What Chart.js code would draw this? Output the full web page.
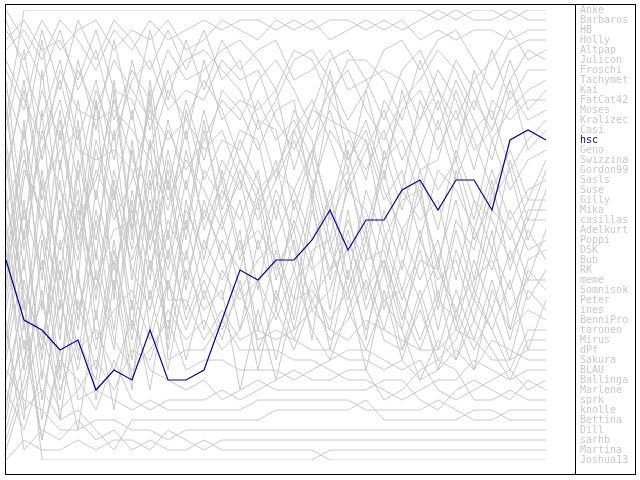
<!DOCTYPE html>
<html>
<head>
<meta charset="utf-8">
<script src="https://cdn.jsdelivr.net/npm/chart.js@4/dist/chart.umd.min.js"></script>
<style>
  body { margin: 0; background: #fff; }
  #wrap { position: relative; width: 640px; height: 480px; }
  #legend { position: absolute; left: 580px; top: 5px; font: 10px "DejaVu Sans Mono", monospace; line-height: 10px; color: #c8c8c8; }
  #legend div { height: 10px; white-space: nowrap; }
</style>
</head>
<body>
<div id="wrap">
  <canvas id="rankChart" width="640" height="480"></canvas>
  <div id="legend"></div>
</div>
<script>
// rounds 0..30
const rounds = [0,1,2,3,4,5,6,7,8,9,10,11,12,13,14,15,16,17,18,19,20,21,22,23,24,25,26,27,28,29,30];

// players in final order (legend)
const players = ["Anke","Barbaros","HB","Holly","Altpap","Julicon","Froschi","Tachymet","Kai","FatCat42",
  "Moses","Kralizec","Casi","hsc","Geno","Swizzina","Gordon99","Sasls","Suse","Gilly","Mika","casillas",
  "Adelkurt","Poppi","DSK","Bub","RK","meme","Somnisok","Peter","ines","BenniPro","taroneo","Mirus","dPf",
  "Sakura","BLAU","Ballinga","Marlene","sprk","knolle","Bettina","Dill","sarhb","Martina","Joshua13"];

const highlight = "hsc";

// rank per round for each player
const anke     = [5,3,6,2,4,7,3,5,2,4,3,2,3,2,2,3,2,3,2,2,3,2,3,2,1,2,1,1,2,1,1];
const barbaros = [12,1,1,1,1,1,1,1,1,1,1,1,1,1,1,1,1,1,1,1,1,1,1,1,2,1,2,2,1,2,2];
const hb       = [3,6,2,5,3,2,5,3,4,2,5,4,2,3,4,2,3,2,4,3,2,3,2,4,3,4,3,3,4,3,3];
const holly    = [30,18,9,14,7,11,6,9,12,8,6,5,7,9,13,10,6,5,8,12,9,5,4,7,4,3,6,9,5,4,4];
const altpap   = [8,22,15,10,18,9,14,8,6,11,9,10,6,8,7,12,15,11,6,5,8,12,7,5,9,12,8,6,3,6,5];
const julicon  = [41,28,35,20,26,15,22,18,11,14,12,8,11,16,20,17,13,10,14,19,15,11,16,12,9,14,10,13,8,5,6];
const froschi  = [17,9,20,12,22,18,10,16,19,13,17,14,10,12,8,6,9,13,9,7,11,14,10,8,5,7,11,5,10,7,7];
const tachymet = [1,4,8,3,9,5,12,7,10,5,8,7,5,4,6,9,5,6,10,6,6,8,12,6,11,6,9,14,11,9,8];
const kai      = [22,35,26,38,21,29,17,25,14,20,16,19,23,17,22,18,14,19,13,16,12,18,9,15,10,16,7,12,6,11,9];
const fatcat42 = [34,20,38,24,33,19,27,21,30,22,26,17,20,14,18,24,19,15,21,14,17,13,19,10,15,11,17,10,12,10,10];
const moses    = [14,27,11,31,16,24,13,28,17,26,15,22,16,19,12,13,21,15,11,17,9,16,11,9,13,8,12,16,9,12,11];
const kralizec = [44,38,29,42,30,37,25,34,23,29,21,25,19,22,17,27,23,16,24,15,23,16,14,20,12,18,13,11,17,14,12];
const casi     = [9,14,4,17,6,13,4,12,3,10,4,9,4,7,5,4,8,7,5,9,8,7,8,12,7,10,15,13,8,15,13];
const hsc      = [26,32,33,35,34,39,37,38,33,38,38,37,32,27,28,26,26,24,21,25,22,22,19,18,21,18,18,21,14,13,14];
const geno     = [38,30,42,27,36,22,33,19,28,16,24,13,21,16,19,17,19,24,20,17,26,15,21,15,19,16,22,14,19,16,15];
const swizzina = [19,33,17,28,12,26,9,24,8,19,10,16,9,11,15,11,10,20,10,13,18,10,13,17,16,9,14,19,15,20,16];
const gordon99 = [27,12,31,16,28,10,30,14,27,18,29,20,26,20,29,20,27,19,28,18,24,17,25,17,23,15,20,25,16,22,17];
const sasls    = [2,7,12,6,14,8,16,6,13,7,14,6,12,10,11,9,17,11,12,13,14,20,17,24,17,19,23,17,22,19,18];
const suse     = [45,39,33,40,28,35,24,36,26,33,22,30,24,27,20,31,20,26,19,28,19,24,20,19,27,17,24,20,17,24,19];
const gilly    = [11,24,7,22,10,20,8,23,9,24,11,18,14,15,10,14,12,16,7,16,13,19,23,20,26,20,28,19,24,20,20];
const mika     = [36,26,40,30,37,27,35,20,33,25,31,24,28,24,33,25,30,20,31,21,30,21,27,18,30,22,25,18,27,21,21];
const casillas = [24,16,22,11,25,14,20,11,22,12,19,11,18,13,14,22,13,18,25,19,21,27,19,22,20,28,20,22,26,22,22];
const adelkurt = [7,11,3,9,2,6,2,4,7,3,7,3,8,6,12,18,11,14,22,18,14,23,29,23,31,23,29,21,23,28,23];
const poppi    = [31,21,27,18,32,21,29,15,25,17,28,21,25,33,24,30,24,34,21,29,23,31,23,28,24,32,23,27,21,25,24];
const dsk      = [16,31,23,34,17,32,19,33,18,34,20,27,22,29,26,24,32,21,27,25,34,24,30,25,33,25,30,23,33,26,25];
const bub      = [40,34,44,35,43,31,41,30,39,28,36,29,34,28,37,29,34,28,33,24,29,26,33,24,28,26,32,25,29,23,26];
const rk       = [4,2,5,4,8,3,9,10,15,9,12,15,13,18,21,16,25,30,27,22,27,33,26,30,26,33,26,31,25,30,27];
const meme     = [21,15,28,13,24,17,21,26,20,27,18,26,17,25,23,26,33,25,24,31,26,25,32,26,27,31,28,26,31,28,28];
const somnisok = [33,42,24,37,27,40,28,39,21,35,25,33,27,30,28,36,28,26,35,27,33,27,35,29,35,29,34,28,34,27,29];
const peter    = [13,5,16,7,11,12,11,13,16,21,13,23,18,26,19,28,22,27,25,30,24,30,29,34,29,36,30,33,28,35,30];
const ines     = [43,36,30,39,34,38,26,38,29,37,27,31,29,39,31,38,30,29,32,29,37,29,36,30,37,31,35,31,36,29,31];
const bennipro = [6,10,14,8,15,16,15,17,24,15,23,12,22,18,25,19,23,31,29,23,31,26,31,35,30,32,37,29,33,31,32];
const taroneo  = [28,17,21,25,19,30,18,27,31,23,32,27,30,23,35,31,35,30,34,32,28,34,35,31,36,34,29,33,37,33,33];
const mirus    = [39,43,37,41,39,36,39,35,36,31,34,32,35,33,28,32,27,33,36,31,35,30,33,38,34,36,32,35,38,34,34];
const dpf      = [18,8,19,15,13,28,23,22,10,30,30,34,31,34,33,34,33,31,33,34,32,33,34,35,35,33,34,36,36,35,35];
const sakura   = [25,37,18,33,20,34,31,29,34,28,33,28,33,29,34,33,34,35,35,36,36,37,36,38,37,35,37,34,35,36,36];
const blau     = [10,25,13,19,23,10,19,31,14,36,35,35,32,35,35,35,36,36,37,38,38,39,40,39,38,38,36,37,38,37,37];
const ballinga = [35,23,36,21,31,25,34,37,35,32,37,36,36,37,37,37,38,37,36,35,35,36,37,36,39,40,39,38,37,39,38];
const marlene  = [20,29,34,26,35,33,37,32,37,38,39,38,40,39,38,39,39,39,39,39,39,38,38,40,41,39,38,39,40,38,39];
const sprk     = [42,32,44,36,38,41,36,40,41,40,40,40,39,40,39,38,37,38,38,37,37,40,39,37,36,37,40,40,39,40,40];
const knolle   = [29,13,23,29,40,39,40,41,40,41,41,41,41,41,40,40,40,40,40,40,41,41,41,41,40,41,42,42,41,41,41];
const bettina  = [23,41,39,42,41,43,45,42,42,42,42,42,42,42,42,41,41,41,41,41,40,42,42,42,42,42,41,41,42,42,42];
const dill     = [37,40,41,43,43,42,42,43,43,44,43,43,43,43,43,43,43,43,43,43,43,43,43,43,43,43,43,43,43,43,43];
const sarhb    = [46,44,45,45,44,45,44,44,45,43,44,45,44,44,44,44,44,44,44,44,44,44,44,44,44,44,44,44,44,44,44];
const martina  = [15,30,46,46,46,46,46,46,46,46,46,46,46,46,46,46,46,46,45,45,45,45,45,45,45,45,45,45,45,45,45];
const joshua13 = [32,45,43,44,42,44,43,45,44,45,45,44,45,45,45,45,45,45,46,46,46,46,46,46,46,46,46,46,46,46,46];

const rankSeries = [anke, barbaros, hb, holly, altpap, julicon, froschi, tachymet, kai, fatcat42,
  moses, kralizec, casi, hsc, geno, swizzina, gordon99, sasls, suse, gilly, mika, casillas,
  adelkurt, poppi, dsk, bub, rk, meme, somnisok, peter, ines, bennipro, taroneo, mirus, dpf,
  sakura, blau, ballinga, marlene, sprk, knolle, bettina, dill, sarhb, martina, joshua13];

const GREY = '#c8c8c8';
const BLUE = '#0000a0';

// frame round plot and legend box
const framePlugin = {
  id: 'frame',
  afterDraw(c) {
    const ctx = c.ctx;
    ctx.save();
    ctx.strokeStyle = '#000';
    ctx.lineWidth = 1;
    ctx.strokeRect(5.5, 4.5, 630, 470);
    ctx.beginPath();
    ctx.moveTo(575.5, 4);
    ctx.lineTo(575.5, 475);
    ctx.stroke();
    ctx.restore();
  }
};

const datasets = players.map((name, i) => ({
  label: name,
  data: rankSeries[i],
  borderColor: name === highlight ? BLUE : GREY,
  borderWidth: name === highlight ? 1.2 : 1,
  pointRadius: 0,
  tension: 0,
  order: name === highlight ? -1 : i
}));

new Chart(document.getElementById('rankChart'), {
  type: 'line',
  data: { labels: rounds, datasets: datasets },
  options: {
    responsive: false,
    animation: false,
    layout: { padding: { left: 6, top: 10, right: 94, bottom: 20 } },
    plugins: { legend: { display: false }, tooltip: { enabled: false } },
    scales: {
      x: { display: false },
      y: { display: false, reverse: true, min: 1, max: 46 }
    }
  },
  plugins: [framePlugin]
});

// legend names
const legend = document.getElementById('legend');
players.forEach(name => {
  const d = document.createElement('div');
  d.textContent = name;
  if (name === highlight) d.style.color = BLUE;
  legend.appendChild(d);
});
</script>
</body>
</html>
